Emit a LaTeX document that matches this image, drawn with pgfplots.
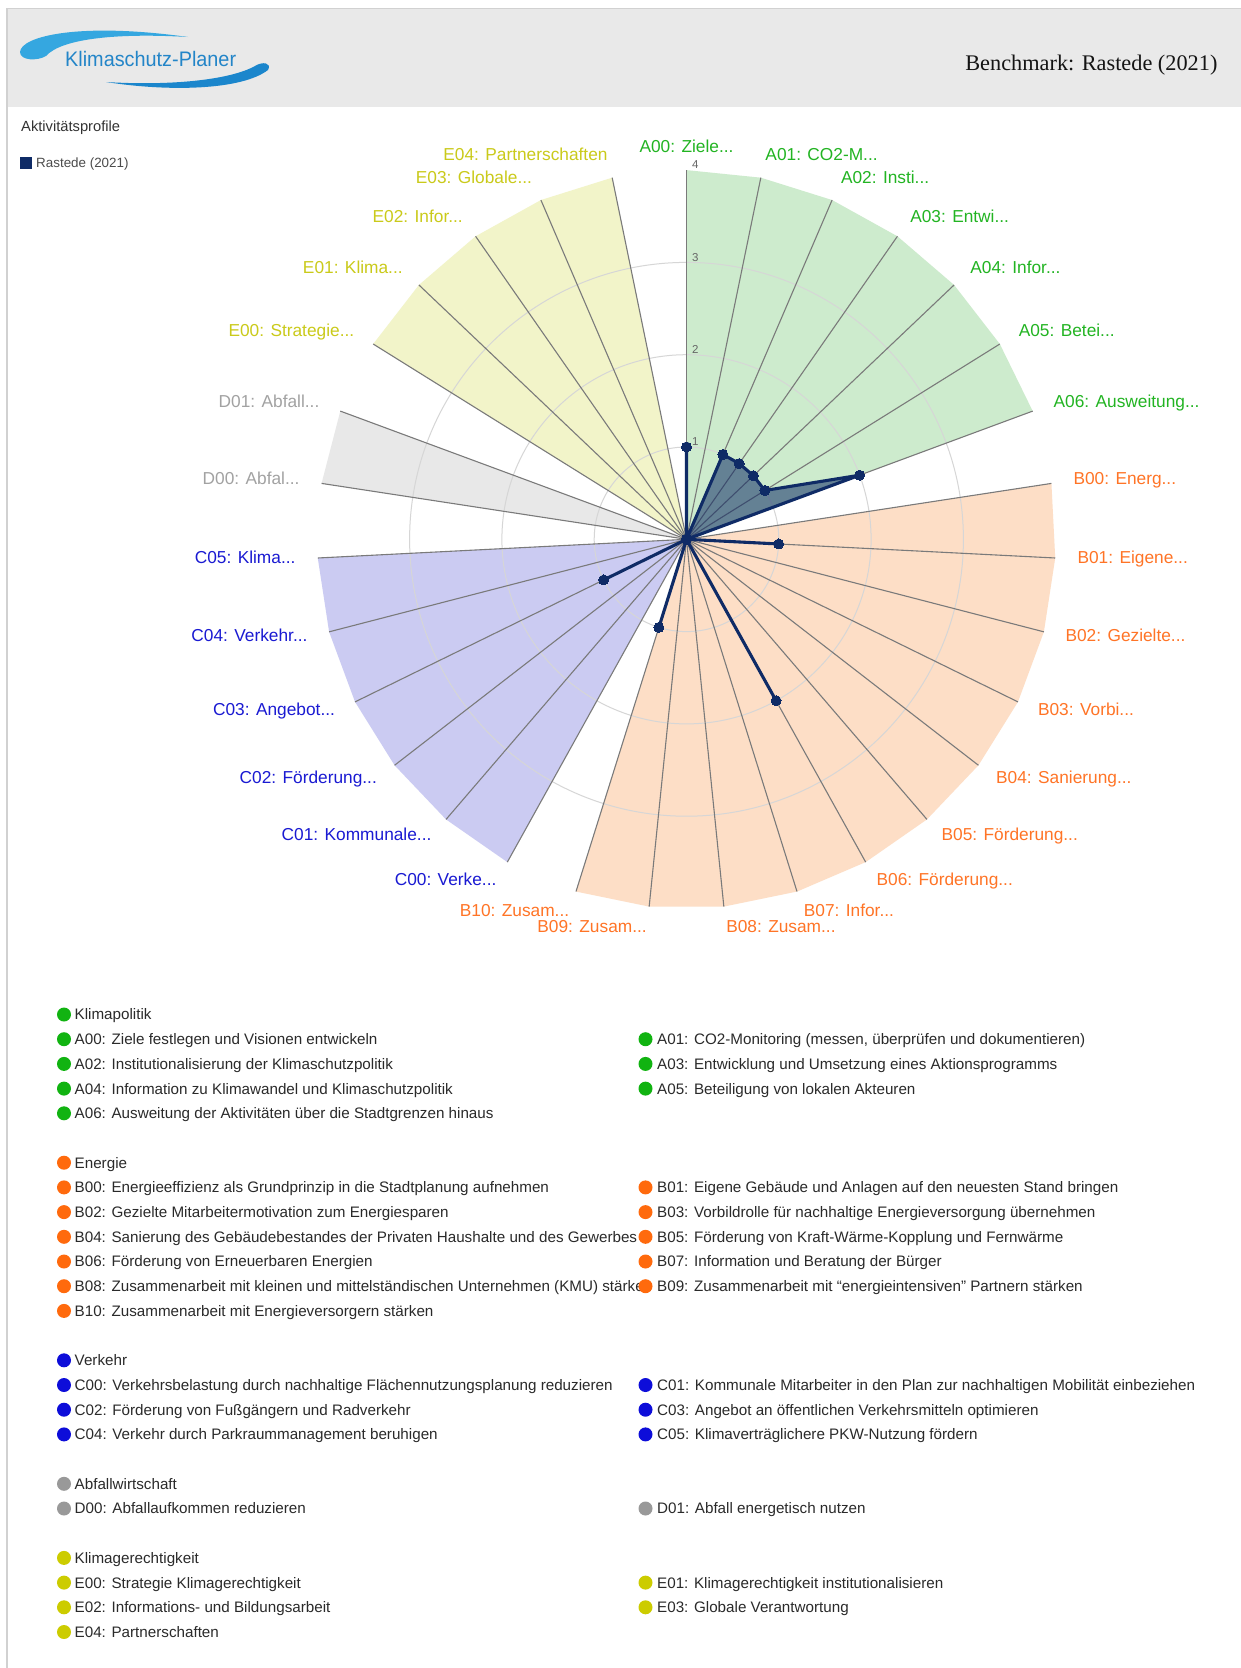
\documentclass[border=0pt]{standalone}
\usepackage{pgfplots}
\pgfplotsset{compat=1.18}
\usepackage{fontspec}
\setmainfont{Liberation Sans}
\newfontfamily\benchfont{Liberation Serif}

\definecolor{navy}{HTML}{0F2B66}
\definecolor{gA}{HTML}{11B311}
\definecolor{gB}{HTML}{FF6A0D}
\definecolor{gC}{HTML}{0D0DD9}
\definecolor{gD}{HTML}{999999}
\definecolor{gE}{HTML}{CCCC00}
\definecolor{tA}{HTML}{22B422}
\definecolor{tB}{HTML}{FF7426}
\definecolor{tC}{HTML}{1A1AD2}
\definecolor{tD}{HTML}{A2A2A2}
\definecolor{tE}{HTML}{CACA1A}
\definecolor{fA}{HTML}{CDEBCD}
\definecolor{fB}{HTML}{FDDEC6}
\definecolor{fC}{HTML}{CBCBF2}
\definecolor{fD}{HTML}{E8E8E8}
\definecolor{fE}{HTML}{F2F4C9}
\definecolor{band}{HTML}{E9E9E9}
\definecolor{logoA}{HTML}{35A7E0}
\definecolor{logoB}{HTML}{1B86CC}
\definecolor{logoT}{HTML}{2385C8}
\definecolor{lgc}{HTML}{2A2A2A}

\newcommand\labfont{\fontsize{17.3}{20}\selectfont}
\newcommand{\clab}[4]{\node[anchor=#3, text=#4, font=\labfont, inner sep=0pt, text height=12.4pt, text depth=0pt, yshift=2pt] at (axis cs:{4.24*cos(#1)},{4.24*sin(#1)}) {#2};}

\tikzset{lgtext/.style={anchor=west, inner sep=0pt, text height=10.9pt, text depth=0pt, font=\fontsize{15.2}{18}\selectfont, text=lgc}}
\newcommand{\iL}[3]{\node[lgtext] at (74.5,#1) {#3}; \fill[#2] (64,#1) circle[radius=7pt];}
\newcommand{\iR}[3]{\node[lgtext] at (657,#1) {#3}; \fill[#2] (645.5,#1) circle[radius=7pt];}

\begin{document}
\begin{tikzpicture}[x=1pt,y=-1pt]
\useasboundingbox (0,0) rectangle (1241,1668);
\fill[white] (0,0) rectangle (1241,1668);
% header band
\fill[band] (7,8) rectangle (1241,107);
\draw[black!18, line width=1pt] (7,8) -- (1241,8);
\draw[black!18, line width=1.2pt] (7,8) -- (7,1668);
% logo
\fill[logoA] (20,52) .. controls (21,36) and (80,22) .. (188,37) .. controls (120,33) and (62,38) .. (46,56) .. controls (38,61) and (20,61) .. (20,52) -- cycle;
\fill[logoB] (106,82) .. controls (170,92) and (242,90) .. (268,70) .. controls (272,63) and (263,61) .. (255,66) .. controls (230,80) and (170,86) .. (106,82) -- cycle;
\node[anchor=base west, inner sep=0pt, text=logoT] at (65,66) {\scalebox{0.945}[1]{\fontsize{21}{24}\selectfont Klimaschutz-Planer}};
\node[anchor=base east, inner sep=0pt, text=black!92] at (1217.6,70) {\benchfont\fontsize{22.3}{26}\selectfont Benchmark: Rastede (2021)};
% chart title and legend
\node[anchor=west, inner sep=0pt, text height=10.5pt, text depth=0pt, text=black!80, font=\fontsize{14.7}{17}\selectfont] at (21,126.5) {Aktivitätsprofile};
\fill[navy] (20,157) rectangle (32,169);
\node[anchor=west, inner sep=0pt, text height=9.6pt, text depth=0pt, text=black!70, font=\fontsize{13.4}{16}\selectfont] at (36,163) {Rastede (2021)};

\begin{axis}[at={(686.5pt,-539.3pt)}, anchor=origin, x=92.3pt, y=92.3pt,
  xmin=-4.4, xmax=4.4, ymin=-4.4, ymax=4.4, hide axis, clip=false]
% group sectors
\addplot[fill=fA, draw=none, data cs=polar] coordinates {(0,0) (90,4) (78.387,4) (66.774,4) (55.161,4) (43.548,4) (31.935,4) (20.323,4)};
\addplot[fill=fB, draw=none, data cs=polar] coordinates {(0,0) (8.710,4) (-2.903,4) (-14.516,4) (-26.129,4) (-37.742,4) (-49.355,4) (-60.968,4) (-72.581,4) (-84.194,4) (-95.806,4) (-107.419,4)};
\addplot[fill=fC, draw=none, data cs=polar] coordinates {(0,0) (-119.032,4) (-130.645,4) (-142.258,4) (-153.871,4) (-165.484,4) (-177.097,4)};
\addplot[fill=fD, draw=none, data cs=polar] coordinates {(0,0) (-188.710,4) (-200.323,4)};
\addplot[fill=fE, draw=none, data cs=polar] coordinates {(0,0) (-211.935,4) (-223.548,4) (-235.161,4) (-246.774,4) (-258.387,4)};
% grid circles
\pgfplotsinvokeforeach{1,2,3}{\draw[black!16, line width=1pt] (axis cs:0,0) circle[radius=#1];}
% radial lines
\pgfplotsinvokeforeach{90,78.387,66.774,55.161,43.548,31.935,20.323,8.710,-2.903,-14.516,-26.129,-37.742,-49.355,-60.968,-72.581,-84.194,-95.806,-107.419,-119.032,-130.645,-142.258,-153.871,-165.484,-177.097,-188.710,-200.323,-211.935,-223.548,-235.161,-246.774,-258.387}{
  \draw[black!52, line width=1.1pt] (axis cs:0,0) -- (axis cs:{4*cos(#1)},{4*sin(#1)});
}
% series Rastede (2021)
\addplot[draw=navy, line width=3.1pt, line join=round, fill=navy, fill opacity=0.55, data cs=polar,
  mark=*, mark size=5pt, mark options={fill=navy, draw=navy, fill opacity=1, line width=0pt}]
  coordinates {(90,1) (78.387,0) (66.774,1) (55.161,1) (43.548,1) (31.935,1) (20.323,2) (8.710,0) (-2.903,1) (-14.516,0) (-26.129,0) (-37.742,0) (-49.355,0) (-60.968,2) (-72.581,0) (-84.194,0) (-95.806,0) (-107.419,1) (-119.032,0) (-130.645,0) (-142.258,0) (-153.871,1) (-165.484,0) (-177.097,0) (-188.710,0) (-200.323,0) (-211.935,0) (-223.548,0) (-235.161,0) (-246.774,0) (-258.387,0) (90,1)};
% radial tick labels
\pgfplotsinvokeforeach{1,2,3,4}{\node[anchor=base west, inner sep=0pt, text=black!60, font=\fontsize{11.5}{13}\selectfont] at (axis cs:0.06,#1+0.012) {#1};}
% category labels
\clab{90}{A00: Ziele...}{center}{tA}
\clab{78.387}{A01: CO2-M...}{west}{tA}
\clab{66.774}{A02: Insti...}{west}{tA}
\clab{55.161}{A03: Entwi...}{west}{tA}
\clab{43.548}{A04: Infor...}{west}{tA}
\clab{31.935}{A05: Betei...}{west}{tA}
\clab{20.323}{A06: Ausweitung...}{west}{tA}
\clab{8.710}{B00: Energ...}{west}{tB}
\clab{-2.903}{B01: Eigene...}{west}{tB}
\clab{-14.516}{B02: Gezielte...}{west}{tB}
\clab{-26.129}{B03: Vorbi...}{west}{tB}
\clab{-37.742}{B04: Sanierung...}{west}{tB}
\clab{-49.355}{B05: Förderung...}{west}{tB}
\clab{-60.968}{B06: Förderung...}{west}{tB}
\clab{-72.581}{B07: Infor...}{west}{tB}
\clab{-84.194}{B08: Zusam...}{west}{tB}
\clab{-95.806}{B09: Zusam...}{east}{tB}
\clab{-107.419}{B10: Zusam...}{east}{tB}
\clab{-119.032}{C00: Verke...}{east}{tC}
\clab{-130.645}{C01: Kommunale...}{east}{tC}
\clab{-142.258}{C02: Förderung...}{east}{tC}
\clab{-153.871}{C03: Angebot...}{east}{tC}
\clab{-165.484}{C04: Verkehr...}{east}{tC}
\clab{-177.097}{C05: Klima...}{east}{tC}
\clab{-188.710}{D00: Abfal...}{east}{tD}
\clab{-200.323}{D01: Abfall...}{east}{tD}
\clab{-211.935}{E00: Strategie...}{east}{tE}
\clab{-223.548}{E01: Klima...}{east}{tE}
\clab{-235.161}{E02: Infor...}{east}{tE}
\clab{-246.774}{E03: Globale...}{east}{tE}
\clab{-258.387}{E04: Partnerschaften}{east}{tE}
\end{axis}

% category legend
\iL{1014.5}{gA}{Klimapolitik}
\iL{1039.2}{gA}{A00: Ziele festlegen und Visionen entwickeln}
\iR{1039.2}{gA}{A01: CO2-Monitoring (messen, überprüfen und dokumentieren)}
\iL{1063.9}{gA}{A02: Institutionalisierung der Klimaschutzpolitik}
\iR{1063.9}{gA}{A03: Entwicklung und Umsetzung eines Aktionsprogramms}
\iL{1088.6}{gA}{A04: Information zu Klimawandel und Klimaschutzpolitik}
\iR{1088.6}{gA}{A05: Beteiligung von lokalen Akteuren}
\iL{1113.3}{gA}{A06: Ausweitung der Aktivitäten über die Stadtgrenzen hinaus}

\iL{1162.7}{gB}{Energie}
\iL{1187.4}{gB}{B00: Energieeffizienz als Grundprinzip in die Stadtplanung aufnehmen}
\iR{1187.4}{gB}{B01: Eigene Gebäude und Anlagen auf den neuesten Stand bringen}
\iL{1212.1}{gB}{B02: Gezielte Mitarbeitermotivation zum Energiesparen}
\iR{1212.1}{gB}{B03: Vorbildrolle für nachhaltige Energieversorgung übernehmen}
\iL{1236.8}{gB}{B04: Sanierung des Gebäudebestandes der Privaten Haushalte und des Gewerbes}
\iR{1236.8}{gB}{B05: Förderung von Kraft-Wärme-Kopplung und Fernwärme}
\iL{1261.5}{gB}{B06: Förderung von Erneuerbaren Energien}
\iR{1261.5}{gB}{B07: Information und Beratung der Bürger}
\begin{scope}
\clip (55,1274) rectangle (650,1299);
\node[lgtext] at (74.5,1286.2) {B08: Zusammenarbeit mit kleinen und mittelständischen Unternehmen (KMU) stärken};
\end{scope}
\fill[gB] (64,1286.2) circle[radius=7pt];
\iR{1286.2}{gB}{B09: Zusammenarbeit mit “energieintensiven” Partnern stärken}
\iL{1310.9}{gB}{B10: Zusammenarbeit mit Energieversorgern stärken}

\iL{1360.3}{gC}{Verkehr}
\iL{1385.0}{gC}{C00: Verkehrsbelastung durch nachhaltige Flächennutzungsplanung reduzieren}
\iR{1385.0}{gC}{C01: Kommunale Mitarbeiter in den Plan zur nachhaltigen Mobilität einbeziehen}
\iL{1409.7}{gC}{C02: Förderung von Fußgängern und Radverkehr}
\iR{1409.7}{gC}{C03: Angebot an öffentlichen Verkehrsmitteln optimieren}
\iL{1434.4}{gC}{C04: Verkehr durch Parkraummanagement beruhigen}
\iR{1434.4}{gC}{C05: Klimaverträglichere PKW-Nutzung fördern}

\iL{1483.8}{gD}{Abfallwirtschaft}
\iL{1508.5}{gD}{D00: Abfallaufkommen reduzieren}
\iR{1508.5}{gD}{D01: Abfall energetisch nutzen}

\iL{1557.9}{gE}{Klimagerechtigkeit}
\iL{1582.6}{gE}{E00: Strategie Klimagerechtigkeit}
\iR{1582.6}{gE}{E01: Klimagerechtigkeit institutionalisieren}
\iL{1607.3}{gE}{E02: Informations- und Bildungsarbeit}
\iR{1607.3}{gE}{E03: Globale Verantwortung}
\iL{1632.0}{gE}{E04: Partnerschaften}
\end{tikzpicture}
\end{document}
